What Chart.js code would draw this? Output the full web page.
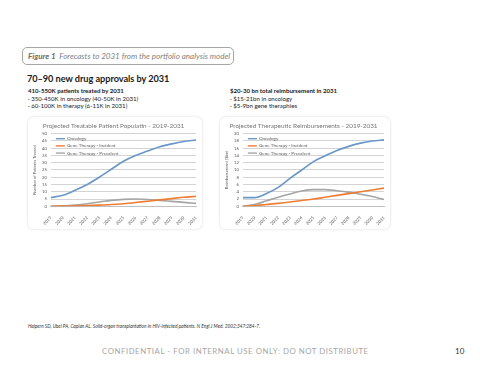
<!DOCTYPE html>
<html>
<head>
<meta charset="utf-8">
<script src="https://cdn.jsdelivr.net/npm/chart.js@4.4.1/dist/chart.umd.min.js"></script>
<style>
body{margin:0;width:480px;height:371px;background:#fff;font-family:Lato,'Liberation Sans',sans-serif;position:relative;overflow:hidden;color:#1a1a1a}
.t{position:absolute;white-space:nowrap}
.caption{left:22px;top:47px;width:212px;height:18px;border:1px solid #a6a6a6;border-radius:5px;box-sizing:border-box;font-style:italic;color:#7f7f7f;font-size:8px;line-height:16px;padding-left:5px}
.caption b{color:#6b6b6b}
.head{left:27px;top:73px;font-size:9.2px;font-weight:bold;letter-spacing:-0.05px}
.sub{font-size:6.1px;line-height:7.7px}
.sub b{font-weight:bold}
.card{position:absolute;top:117px;height:112px;background:#fff;border-radius:6px;box-shadow:0 0 3px rgba(0,0,0,0.16)}
.ref{left:28px;top:323px;font-size:4.75px;font-style:italic;color:#333}
.conf{left:102px;top:346px;font-size:7.8px;letter-spacing:0.55px;color:#a6a6a6}
.page{left:455px;top:346px;font-size:8px;color:#333}
</style>
</head>
<body>
<div class="t caption"><b>Figure 1</b>&nbsp; Forecasts to 2031 from the portfolio analysis model</div>
<div class="t head">70–90 new drug approvals by 2031</div>
<div class="t sub" style="left:28px;top:87px"><b>410-550K patients treated by 2031</b><br>· 350-450K in oncology (40-50K in 2031)<br>· 60-100K in therapy (6-11K in 2031)</div>
<div class="t sub" style="left:230px;top:87px"><b>$20-30 bn total reimbursement in 2031</b><br>· $15-21bn in oncology<br>· $5-9bn gene theraphies</div>

<div class="card" style="left:28px;width:174px"><canvas id="patChart" width="174" height="112"></canvas></div>
<div class="card" style="left:220px;width:170px"><canvas id="reimbChart" width="170" height="112"></canvas></div>

<div class="t ref">Halpern SD, Ubel PA, Caplan AL. Solid-organ transplantation in HIV-infected patients. N Engl J Med. 2002;347:284-7.</div>
<div class="t conf">CONFIDENTIAL - FOR INTERNAL USE ONLY: DO NOT DISTRIBUTE</div>
<div class="t page">10</div>

<script>
// years on the x axis
var years = ['2019','2020','2021','2022','2023','2024','2025','2026','2027','2028','2029','2030','2031'];
var seriesNames = ['Oncology', 'Gene Therapy - Incident', 'Gene Therapy - Prevalent'];

// patients treated (thousands)
var patOncology  = [6, 7.6, 11, 15, 20, 25.5, 31, 35, 38, 41, 43, 44.6, 45.6];
var patIncident  = [0, 0.1, 0.3, 0.5, 0.8, 1.2, 1.8, 2.6, 3.5, 4.4, 5.3, 6.2, 6.9];
var patPrevalent = [0, 0.3, 0.9, 1.8, 3.0, 4.1, 4.8, 5.0, 4.7, 4.1, 3.4, 2.7, 2.0];

// reimbursement ($bn)
var reimbOncology  = [2.4, 2.4, 3.5, 5.2, 7.7, 10, 12.3, 13.9, 15.4, 16.5, 17.4, 18, 18.3];
var reimbIncident  = [0, 0.2, 0.5, 0.8, 1.2, 1.6, 2.0, 2.5, 3.0, 3.5, 4.0, 4.5, 5.0];
var reimbPrevalent = [0, 0.5, 1.5, 2.5, 3.4, 4.2, 4.6, 4.6, 4.3, 3.9, 3.3, 2.7, 1.9];

var colours = ['#6a96c8', '#ed7d31', '#a5a5a5'];
var txtGrey = '#595959';

// excel style legend drawn inside the plot, top left
var lineLegend = {
    id: 'lineLegend',
    afterDatasetsDraw: function(chart, args, opts) {
        var ctx = chart.ctx;
        var area = chart.chartArea;
        ctx.save();
        ctx.font = '4.6px Lato';
        ctx.textBaseline = 'middle';
        chart.data.datasets.forEach(function(ds, i) {
            var x = area.left + opts.left;
            var y = area.top + opts.top + i * opts.gap;
            ctx.strokeStyle = ds.borderColor;
            ctx.lineWidth = 1.4;
            ctx.beginPath();
            ctx.moveTo(x, y);
            ctx.lineTo(x + 9, y);
            ctx.stroke();
            ctx.fillStyle = txtGrey;
            ctx.fillText(ds.label, x + 11, y);
        });
        ctx.restore();
    }
};

function makeChart(id, title, yTitle, yMax, yStep, s1, s2, s3, pad) {
    var sets = [s1, s2, s3].map(function(vals, i) {
        return {
            label: seriesNames[i],
            data: vals,
            borderColor: colours[i],
            backgroundColor: colours[i],
            borderWidth: 1.6,
            pointRadius: 0,
            cubicInterpolationMode: 'monotone',
            fill: false
        };
    });
    return new Chart(document.getElementById(id), {
        type: 'line',
        data: { labels: years, datasets: sets },
        plugins: [lineLegend],
        options: {
            responsive: false,
            animation: false,
            layout: { padding: pad },
            plugins: {
                legend: { display: false },
                tooltip: { enabled: false },
                title: {
                    display: true,
                    text: title,
                    color: '#767676',
                    font: { family: 'Lato', size: 6.4, weight: 'normal' },
                    padding: { top: 5, bottom: 4 }
                },
                lineLegend: { left: 5, top: 5, gap: 7.2 }
            },
            scales: {
                x: {
                    grid: { display: false },
                    border: { color: '#bfbfbf' },
                    ticks: {
                        color: txtGrey,
                        font: { family: 'Lato', size: 4.3 },
                        minRotation: 45,
                        maxRotation: 45,
                        autoSkip: false,
                        padding: 1
                    }
                },
                y: {
                    min: 0,
                    max: yMax,
                    border: { display: false },
                    grid: { color: '#d4d4d4', lineWidth: 1, drawTicks: false },
                    ticks: {
                        stepSize: yStep,
                        autoSkip: false,
                        color: txtGrey,
                        font: { family: 'Lato', size: 4.3 },
                        padding: 4
                    },
                    title: {
                        display: true,
                        text: yTitle,
                        color: txtGrey,
                        font: { family: 'Lato', size: 4.1 },
                        padding: 1
                    }
                }
            }
        }
    });
}

makeChart('patChart', 'Projected Treatable Patient Populatin - 2019-2031', 'Number of Patients Treated',
    50, 5, patOncology, patIncident, patPrevalent, { left: 3, right: 6, top: 0, bottom: 2 });
makeChart('reimbChart', 'Projected Therapeutic Reimbursements - 2019-2031', 'Reimbursement ($bn)',
    20, 2, reimbOncology, reimbIncident, reimbPrevalent, { left: 3, right: 6, top: 0, bottom: 2 });
</script>
</body>
</html>
